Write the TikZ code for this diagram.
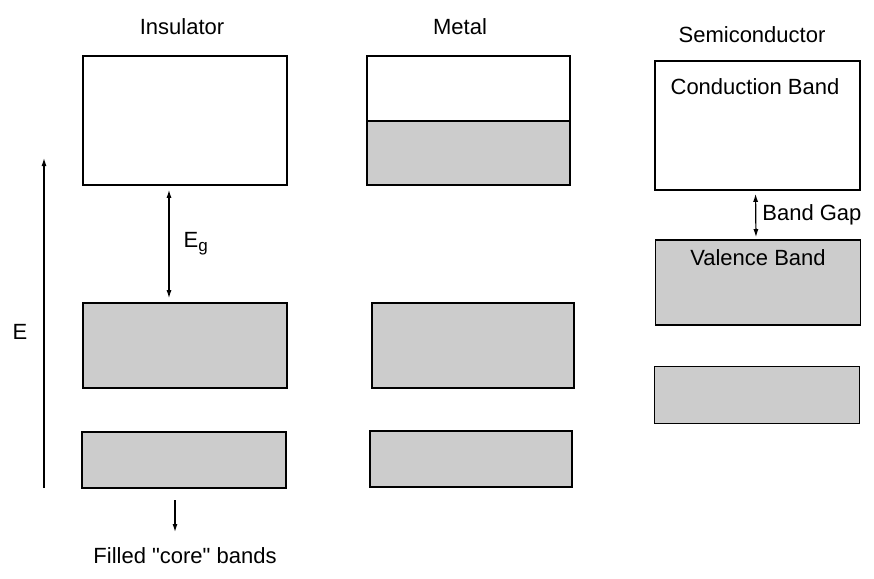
\documentclass[tikz,border=0pt]{standalone}
\usepackage{fontspec}
\setmainfont{Liberation Sans}[Ligatures=TeXOff]
\usepackage{xcolor}
\usepackage{tikz}
\usetikzlibrary{arrows.meta, positioning}
\definecolor{Stipple}{HTML}{CCCCCC}
\tikzset{
  band arrow/.style={-{Latex[length=8pt,width=5pt]}, line width=1.2pt},
  gap arrow/.style={{Latex[length=8pt,width=5pt]}-{Latex[length=8pt,width=5pt]}, line width=1.2pt},
}

\begin{document}
\begin{tikzpicture}[x=1pt, y=-1pt, font=\fontsize{22}{26}\selectfont,
    empty/.style={draw, line width=1.6pt, inner sep=0pt, fill=white},
    filled/.style={draw, line width=1.6pt, inner sep=0pt, fill=Stipple},
    txt/.style={inner sep=0pt}]
  \useasboundingbox (0,0) rectangle (874,578);
  % Headings
  \node[txt] (tins)  at (182,27) {Insulator};
  \node[txt] (tmet)  at (460,27) {Metal};
  \node[txt] (tsemi) at (752,35) {Semiconductor};
  % Insulator
  \node[empty,  minimum width=204pt, minimum height=129pt] (insc) at (185,120.5) {};
  \node[filled, minimum width=204pt, minimum height=85pt]  (insv) at (185,345.5) {};
  \node[filled, minimum width=204pt, minimum height=56pt]  (insk) at (184,460) {};
  % Metal
  \node[empty,  minimum width=203pt, minimum height=65pt]  (metc) at (468.5,88.5) {};
  \node[filled, minimum width=203pt, minimum height=64pt]  (metf) at (468.5,153) {};
  \node[filled, minimum width=202pt, minimum height=85pt]  (metv) at (473,345.5) {};
  \node[filled, minimum width=202pt, minimum height=56pt]  (metk) at (471,459) {};
  % Semiconductor
  \node[empty,  minimum width=205pt, minimum height=129pt] (semc) at (757.5,125.5) {};
  \node[filled, minimum width=205pt, minimum height=85pt]  (semv) at (758,282.5) {};
  \node[filled, minimum width=205pt, minimum height=57pt]  (semk) at (757,395) {};
  \node[txt] (cb) at (755,87)  {Conduction Band};
  \node[txt] (vb) at (758,258) {Valence Band};
  % Energy axis
  \coordinate (ebot) at (44,488);
  \coordinate (etop) at (44,158);
  \node[txt] (elab) at (20,332) {E};
  % Arrows
  \draw[band arrow] (ebot) -- (etop);
  \draw[gap arrow, shorten <=4pt, shorten >=4pt]
    ([xshift=-16pt]insc.south) -- node[right=14pt, txt] (eg) {E\raisebox{-4pt}{\fontsize{17}{20}\selectfont g}} ([xshift=-16pt]insv.north);
  \draw[gap arrow, shorten <=3pt, shorten >=2pt]
    ([xshift=-2pt]semc.south) -- node[right=6pt, txt] (bg) {Band Gap} ([xshift=-2pt]semv.north);
  \node[txt] (core) at (185,556) {Filled "core" bands};
  \coordinate (ktop) at (175,500);
  \coordinate (kbot) at (175,532);
  \draw[band arrow] (ktop) -- (kbot);
\end{tikzpicture}
\end{document}
